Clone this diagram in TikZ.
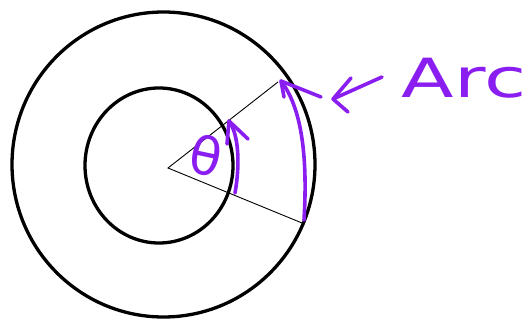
\documentclass[tikz,border=0pt]{standalone}
\usepackage{fontspec}
\setmainfont{DejaVu Sans}
\definecolor{violet}{RGB}{138,30,240}
\begin{document}
\begin{tikzpicture}[x=1pt,y=-1pt,
  ring/.style={draw=black,line width=3.3pt},
  radial/.style={draw=black,line width=0.9pt},
  pen/.style={draw=violet,line width=3.6pt,line cap=round,line join=round},
  hand/.style={text=violet,inner sep=0pt}]
\useasboundingbox (0,0) rectangle (530,320);
% circles
\draw[ring] (163.5,164.5) ellipse [x radius=151.5,y radius=152.5];
\draw[ring] (159,165.5) ellipse [x radius=74,y radius=77.5];
% radial lines
\coordinate (O) at (168,168);
\coordinate (P) at (278,82);
\coordinate (Q) at (302,223);
\draw[radial] (P) -- (O) -- (Q);
% inner arc arrow
\coordinate (i0) at (235,193);
\coordinate (it) at (229,121);
\draw[pen] (i0) .. controls (240,165) and (239,135) .. (it);
\draw[pen] (248,139) -- (it) -- (227,144);
% outer arc arrow
\coordinate (o0) at (304,220);
\coordinate (ot) at (281,81);
\draw[pen] (o0) .. controls (307,170) and (305,112) .. (ot);
\draw[pen] (321,97) -- (ot) -- (284,97);
% pointer arrow
\coordinate (at) at (333,99);
\coordinate (a0) at (382,77);
\draw[pen] (a0) -- (at);
\draw[pen] (351,78) -- (at) -- (348,112);
% labels
\node[hand,font=\fontsize{52}{52}\selectfont,rotate=-12] (theta) at (206,156) {θ};
\node[hand,font=\fontsize{54}{54}\selectfont,xscale=1.42,anchor=base] (arc) at (464,98) {Arc};
\end{tikzpicture}
\end{document}
